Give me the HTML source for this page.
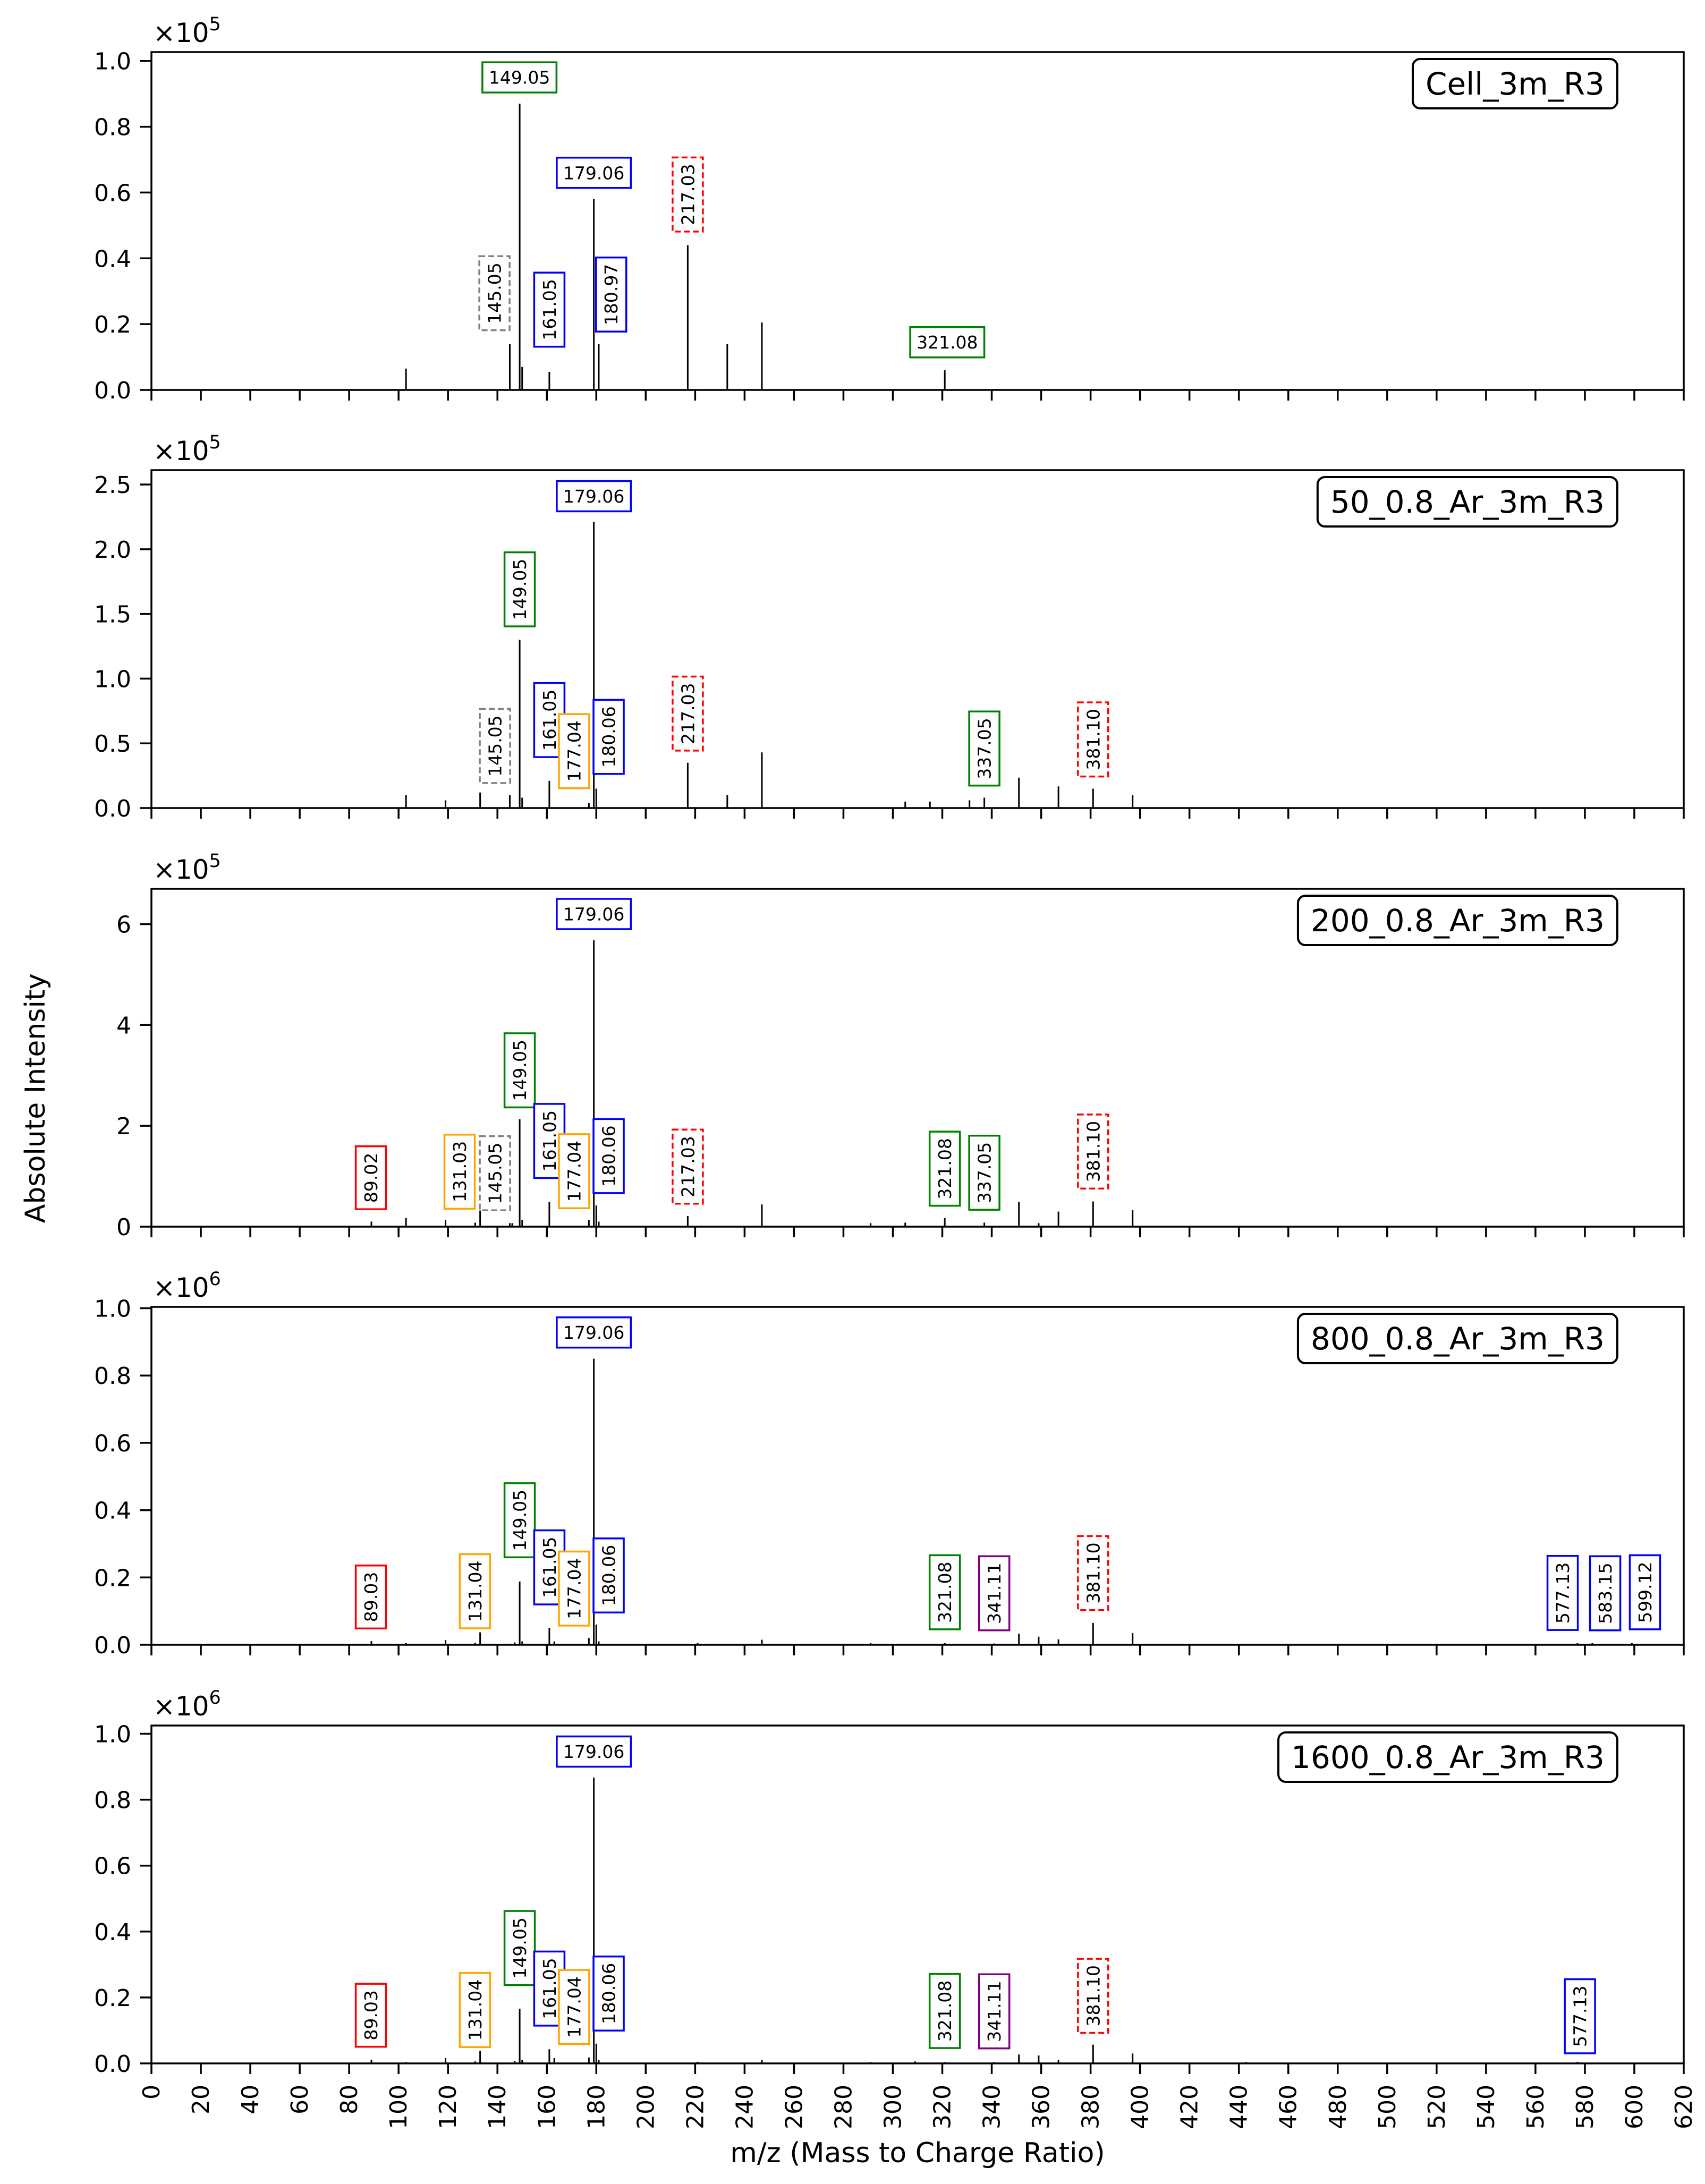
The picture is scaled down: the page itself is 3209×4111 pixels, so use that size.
<!DOCTYPE html>
<html>
<head>
<meta charset="utf-8">
<style>
  html, body { margin: 0; padding: 0; background: #ffffff; }
  svg { display: block; font-family: "DejaVu Sans", "Liberation Sans", sans-serif; }
</style>
</head>
<body>
<svg id="chart" xmlns="http://www.w3.org/2000/svg" width="3209" height="4111" viewBox="0 0 3209 4111">
  <rect x="0" y="0" width="3209" height="4111" fill="#ffffff"/>
  <text x="1727" y="4070" text-anchor="middle" font-size="52" fill="#000">m/z (Mass to Charge Ratio)</text>
  <text x="0" y="0" text-anchor="middle" font-size="52" fill="#000" transform="translate(84,2067) rotate(-90)">Absolute Intensity</text>
</svg>
<script>
// ---------- data ----------
const panelNames = ["Cell_3m_R3", "50_0.8_Ar_3m_R3", "200_0.8_Ar_3m_R3", "800_0.8_Ar_3m_R3", "1600_0.8_Ar_3m_R3"];
const panelExp = [5, 5, 5, 6, 6];
const panelYMax = [1.027, 2.611, 6.70, 1.004, 1.025];
const yTicks1 = [0.0, 0.2, 0.4, 0.6, 0.8, 1.0];
const yTicks2 = [0.0, 0.5, 1.0, 1.5, 2.0, 2.5];
const yTicks3 = [0, 2, 4, 6];
const yTicks4 = [0.0, 0.2, 0.4, 0.6, 0.8, 1.0];
const yTicks5 = [0.0, 0.2, 0.4, 0.6, 0.8, 1.0];
const xTicks = [0,20,40,60,80,100,120,140,160,180,200,220,240,260,280,300,320,340,360,380,400,420,440,460,480,500,520,540,560,580,600,620];

const mz1 = [103, 145, 149, 150, 161, 179, 181, 217, 233, 247, 321];
const int1 = [0.065, 0.14, 0.87, 0.07, 0.055, 0.58, 0.14, 0.44, 0.14, 0.205, 0.06];

const mz2 = [103, 119, 133, 145, 149, 150, 161, 177, 179, 180, 217, 233, 247, 305, 315, 331, 337, 351, 367, 381, 397];
const int2 = [0.10, 0.06, 0.12, 0.10, 1.30, 0.08, 0.21, 0.04, 2.21, 0.15, 0.35, 0.10, 0.43, 0.05, 0.05, 0.06, 0.08, 0.235, 0.167, 0.15, 0.10];

const mz3 = [89, 103, 119, 131, 133, 145, 146, 149, 150, 161, 177, 179, 180, 181, 217, 247, 291, 305, 321, 337, 351, 359, 367, 381, 397];
const int3 = [0.10, 0.17, 0.13, 0.08, 0.32, 0.07, 0.07, 2.13, 0.13, 0.49, 0.13, 5.68, 0.42, 0.10, 0.21, 0.44, 0.07, 0.08, 0.17, 0.08, 0.49, 0.07, 0.30, 0.50, 0.33];

const mz4 = [89, 103, 119, 131, 133, 147, 149, 150, 161, 163, 177, 179, 180, 181, 221, 247, 291, 321, 341, 351, 359, 367, 381, 397, 577, 583, 599];
const int4 = [0.011, 0.005, 0.014, 0.006, 0.037, 0.007, 0.188, 0.01, 0.05, 0.01, 0.02, 0.85, 0.06, 0.01, 0.005, 0.015, 0.005, 0.005, 0.004, 0.033, 0.024, 0.016, 0.065, 0.035, 0.005, 0.005, 0.005];

const mz5 = [89, 103, 119, 131, 133, 147, 149, 150, 161, 163, 177, 179, 180, 181, 221, 247, 291, 309, 321, 341, 351, 359, 367, 381, 397, 443, 577];
const int5 = [0.011, 0.004, 0.016, 0.006, 0.038, 0.007, 0.166, 0.01, 0.043, 0.016, 0.018, 0.867, 0.06, 0.01, 0.005, 0.01, 0.004, 0.006, 0.004, 0.004, 0.027, 0.024, 0.01, 0.057, 0.03, 0.004, 0.005];

// annotation labels: text, anchor m/z, anchor value, colour, orientation (h/v), dashed
const lab1Text = ["149.05", "179.06", "217.03", "145.05", "161.05", "180.97", "321.08"];
const lab1X = [148.9, 179, 217, 138.8, 161, 186, 322];
const lab1Y = [0.95, 0.66, 0.594, 0.294, 0.244, 0.29, 0.145];
const lab1Color = ["green", "blue", "red", "gray", "blue", "blue", "green"];
const lab1Orient = ["h", "h", "v", "v", "v", "v", "h"];

const lab2Text = ["179.06", "149.05", "145.05", "161.05", "177.04", "180.06", "217.03", "337.05", "381.10"];
const lab2X = [179, 149, 139, 161, 171, 185, 217, 337, 381];
const lab2Y = [2.41, 1.69, 0.48, 0.68, 0.44, 0.55, 0.73, 0.46, 0.53];
const lab2Color = ["blue", "green", "gray", "blue", "orange", "blue", "red", "green", "red"];
const lab2Orient = ["h", "v", "v", "v", "v", "v", "v", "v", "v"];

const lab3Text = ["179.06", "149.05", "89.02", "131.03", "145.05", "161.05", "177.04", "180.06", "217.03", "321.08", "337.05", "381.10"];
const lab3X = [179, 149, 88.8, 124.7, 139, 161, 171, 185, 217, 321, 337, 381];
const lab3Y = [6.2, 3.1, 0.97, 1.09, 1.06, 1.7, 1.1, 1.4, 1.19, 1.15, 1.07, 1.49];
const lab3Color = ["blue", "green", "red2", "orange", "gray", "blue", "orange", "blue", "red", "green", "green", "red"];
const lab3Orient = ["h", "v", "v", "v", "v", "v", "v", "v", "v", "v", "v", "v"];

const lab4Text = ["179.06", "149.05", "89.03", "131.04", "161.05", "177.04", "180.06", "321.08", "341.11", "381.10", "577.13", "583.15", "599.12"];
const lab4X = [179, 149, 88.8, 130.9, 161, 171, 185, 321, 341, 381, 571, 588.2, 604.3];
const lab4Y = [0.928, 0.37, 0.142, 0.159, 0.23, 0.167, 0.206, 0.156, 0.153, 0.213, 0.154, 0.153, 0.156];
const lab4Color = ["blue", "green", "red2", "orange", "blue", "orange", "blue", "green", "purple", "red", "blue", "blue", "blue"];
const lab4Orient = ["h", "v", "v", "v", "v", "v", "v", "v", "v", "v", "v", "v", "v"];

const lab5Text = ["179.06", "149.05", "89.03", "131.04", "161.05", "177.04", "180.06", "321.08", "341.11", "381.10", "577.13"];
const lab5X = [179, 149, 88.8, 130.9, 161, 171, 185, 321, 341, 381, 578];
const lab5Y = [0.946, 0.35, 0.146, 0.162, 0.227, 0.171, 0.212, 0.159, 0.158, 0.205, 0.143];
const lab5Color = ["blue", "green", "red2", "orange", "blue", "orange", "blue", "green", "purple", "red", "blue"];
const lab5Orient = ["h", "v", "v", "v", "v", "v", "v", "v", "v", "v", "v"];

// ---------- layout ----------
const NS = "http://www.w3.org/2000/svg";
const svg = document.getElementById("chart");
const AX_L = 285, AX_R = 3169, PANEL_H = 636;
const panelTops = [98, 885, 1673, 2460, 3248];
const XMIN = 0, XMAX = 620;
const colorMap = { green: "#008000", blue: "#0000ff", red: "#ff0000", red2: "#ff0000", gray: "#808080", orange: "#ffa500", purple: "#800080" };
const dashedMap = { red: true, gray: true };

function xScale(v) { return AX_L + (v - XMIN) / (XMAX - XMIN) * (AX_R - AX_L); }
function yScaleFor(top, ymax) { return function (v) { return top + PANEL_H - v / ymax * PANEL_H; }; }
function mk(tag, attrs, parent) {
  const el = document.createElementNS(NS, tag);
  for (const k in attrs) el.setAttribute(k, attrs[k]);
  (parent || svg).appendChild(el);
  return el;
}

const allMz = [mz1, mz2, mz3, mz4, mz5];
const allInt = [int1, int2, int3, int4, int5];
const allYT = [yTicks1, yTicks2, yTicks3, yTicks4, yTicks5];
const allLT = [lab1Text, lab2Text, lab3Text, lab4Text, lab5Text];
const allLX = [lab1X, lab2X, lab3X, lab4X, lab5X];
const allLY = [lab1Y, lab2Y, lab3Y, lab4Y, lab5Y];
const allLC = [lab1Color, lab2Color, lab3Color, lab4Color, lab5Color];
const allLO = [lab1Orient, lab2Orient, lab3Orient, lab4Orient, lab5Orient];

for (let p = 0; p < 5; p++) {
  const top = panelTops[p];
  const bottom = top + PANEL_H;
  const ys = yScaleFor(top, panelYMax[p]);
  const g = mk("g", {});
  
  

  // peaks
  for (let i = 0; i < allMz[p].length; i++) {
    const x = xScale(allMz[p][i]);
    const ln = mk("line", { x1: x, x2: x, y1: bottom, y2: ys(allInt[p][i]), stroke: "#000", "stroke-width": 3 }, g);
    
    
  }

  // axes frame
  const fr = mk("rect", { x: AX_L, y: top, width: AX_R - AX_L, height: PANEL_H, fill: "none", stroke: "#000", "stroke-width": 3.5 }, g);
  
  

  // y ticks
  const yt = allYT[p];
  for (let i = 0; i < yt.length; i++) {
    const y = ys(yt[i]);
    const tk = mk("line", { x1: AX_L - 22, x2: AX_L, y1: y, y2: y, stroke: "#000", "stroke-width": 3.5 }, g);
    
    
    const lbl = (p === 2) ? String(yt[i]) : yt[i].toFixed(1);
    const tx = mk("text", { x: AX_L - 38, y: y + 16, "text-anchor": "end", "font-size": 44, fill: "#000" }, g);
    tx.textContent = lbl;
    
    
  }

  // x ticks
  for (let i = 0; i < xTicks.length; i++) {
    const x = xScale(xTicks[i]);
    const tk = mk("line", { x1: x, x2: x, y1: bottom, y2: bottom + 20, stroke: "#000", "stroke-width": 3.5 }, g);
    
    
    if (p === 4) {
      const tx = mk("text", { x: 0, y: 0, "text-anchor": "end", "font-size": 44, fill: "#000", transform: "translate(" + (x + 15) + "," + (bottom + 40) + ") rotate(-90)" }, g);
      tx.textContent = String(xTicks[i]);
      
      
    }
  }

  // exponent label
  const ex = mk("text", { x: 288, y: top - 19, "font-size": 50, fill: "#000" }, g);
  ex.textContent = "×10";
  const sup = mk("tspan", { dy: -22, "font-size": 35 }, ex);
  sup.textContent = String(panelExp[p]);
  
  

  // sample name box
  const nt = mk("text", { x: 0, y: top + 13 + 67, "font-size": 58, fill: "#000" }, g);
  nt.textContent = panelNames[p];
  
  
  const nw = nt.getComputedTextLength();
  const bw = nw + 48;
  const bx = 3044 - bw;
  nt.setAttribute("x", bx + 24);
  const nb = mk("rect", { x: bx, y: top + 13, width: bw, height: 93, rx: 14, ry: 14, fill: "#fff", stroke: "#000", "stroke-width": 4 }, g);
  g.insertBefore(nb, nt);
  
  

  // annotations
  for (let i = 0; i < allLT[p].length; i++) {
    const cx = xScale(allLX[p][i]);
    const cy = ys(allLY[p][i]);
    const col = colorMap[allLC[p][i]];
    const dashed = !!dashedMap[allLC[p][i]];
    const ag = mk("g", {}, g);
    
    
    const rect = mk("rect", { fill: "#fff", stroke: col, "stroke-width": 3.5 }, ag);
    if (dashed) rect.setAttribute("stroke-dasharray", "11,6");
    const t = mk("text", { x: 0, y: 0, "font-size": 33, "text-anchor": "middle", fill: "#000" }, ag);
    t.textContent = allLT[p][i];
    const tl = t.getComputedTextLength();
    const L = tl + 24, W = 57;
    if (allLO[p][i] === "h") {
      rect.setAttribute("x", cx - L / 2); rect.setAttribute("y", cy - W / 2);
      rect.setAttribute("width", L); rect.setAttribute("height", W);
      t.setAttribute("x", cx); t.setAttribute("y", cy + 12);
    } else {
      rect.setAttribute("x", cx - W / 2); rect.setAttribute("y", cy - L / 2);
      rect.setAttribute("width", W); rect.setAttribute("height", L);
      t.setAttribute("transform", "translate(" + (cx + 12) + "," + cy + ") rotate(-90)");
    }
  }
}
</script>
</body>
</html>
